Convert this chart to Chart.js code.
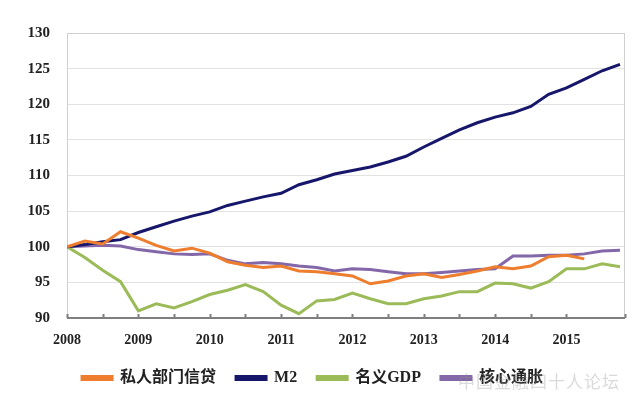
<!DOCTYPE html>
<html>
<head>
<meta charset="utf-8">
<script src="https://cdn.jsdelivr.net/npm/chart.js@4"></script>
<style>
body { margin: 0; background: #fff; }
#wrap { position: relative; width: 637px; height: 396px; }
#mark { position: absolute; left: 458px; top: 368px; font: 17px "Noto Sans CJK SC"; color: rgba(150,150,150,0.35); letter-spacing: 1px; }
</style>
</head>
<body>
<div id="wrap">
<canvas id="myChart" width="637" height="396"></canvas>
<span id="mark">中国金融四十人论坛</span>
</div>
<script>
// quarters 2008Q1 .. 2015Q4
const quarters = ['2008Q1','2008Q2','2008Q3','2008Q4','2009Q1','2009Q2','2009Q3','2009Q4',
  '2010Q1','2010Q2','2010Q3','2010Q4','2011Q1','2011Q2','2011Q3','2011Q4',
  '2012Q1','2012Q2','2012Q3','2012Q4','2013Q1','2013Q2','2013Q3','2013Q4',
  '2014Q1','2014Q2','2014Q3','2014Q4','2015Q1','2015Q2','2015Q3','2015Q4'];

const credit = [100,100.8,100.4,102.1,101.2,100.2,99.4,99.8,99.1,97.9,97.4,97.1,97.3,96.6,96.5,96.2,
  95.9,94.8,95.2,95.9,96.2,95.7,96.1,96.6,97.2,96.9,97.3,98.6,98.8,98.3,null,null];
const m2 = [100,100.3,100.7,101.0,102.0,102.8,103.6,104.3,104.9,105.8,106.4,107.0,107.5,108.7,109.4,110.2,
  110.7,111.2,111.9,112.7,114.0,115.2,116.4,117.4,118.2,118.8,119.7,121.4,122.3,123.5,124.7,125.6];
const gdp = [100,98.5,96.7,95.1,91.0,92.0,91.4,92.3,93.3,93.9,94.7,93.7,91.8,90.6,92.4,92.6,
  93.5,92.7,92.0,92.0,92.7,93.1,93.7,93.7,94.9,94.8,94.2,95.1,96.9,96.9,97.6,97.2];
const core = [100,100.1,100.2,100.1,99.6,99.3,99.0,98.9,99.0,98.1,97.6,97.8,97.6,97.3,97.1,96.6,
  96.9,96.8,96.5,96.2,96.2,96.4,96.6,96.8,96.9,98.7,98.7,98.8,98.8,99.0,99.4,99.5];

const seriesNames = ['私人部门信贷', 'M2', '名义GDP', '核心通胀'];
const colors = ['#ee7d2e', '#16166b', '#9bbb59', '#8367a8'];

// quarter label -> fractional year
function qx(q) { return Number(q.slice(0,4)) + (Number(q.slice(5)) - 1) / 4; }
function pts(vals) { return vals.map((v, i) => ({ x: qx(quarters[i]), y: v })); }

const FONT = "'Liberation Serif', 'Noto Sans CJK SC', serif";

// frame + inner tick marks
const frame = {
  id: 'frame',
  beforeDatasetsDraw(chart) {
    const a = chart.chartArea, c = chart.ctx;
    c.save();
    c.strokeStyle = '#cfcfcf';
    c.lineWidth = 1;
    c.beginPath();
    c.moveTo(a.left + 0.5, a.bottom);
    c.lineTo(a.left + 0.5, a.top + 0.5);
    c.lineTo(a.right - 0.5, a.top + 0.5);
    c.lineTo(a.right - 0.5, a.bottom);
    c.stroke();
    c.restore();
  },
  afterDatasetsDraw(chart) {
    const a = chart.chartArea, c = chart.ctx, sx = chart.scales.x;
    c.save();
    c.strokeStyle = '#7f7f7f';
    c.lineWidth = 2;
    c.beginPath();
    c.moveTo(a.left, a.bottom);
    c.lineTo(a.right, a.bottom);
    sx.ticks.forEach(t => {
      const px = Math.round(sx.getPixelForValue(t.value)) + 0.5;
      c.moveTo(px, a.bottom);
      c.lineTo(px, a.bottom - 4);
    });
    c.stroke();
    c.restore();
  }
};

const ctx = document.getElementById('myChart').getContext('2d');
const chart = new Chart(ctx, {
  type: 'line',
  data: {
    datasets: [credit, m2, gdp, core].map((vals, i) => ({
      label: seriesNames[i],
      data: pts(vals),
      borderColor: colors[i],
      backgroundColor: colors[i],
      borderWidth: 3,
      pointRadius: 0,
      tension: 0,
      spanGaps: false
    }))
  },
  options: {
    responsive: false,
    animation: false,
    layout: { padding: { left: 0, right: 12, top: 33, bottom: 0 } },
    scales: {
      x: {
        type: 'linear',
        min: 2008,
        max: 2015.82,
        afterFit: s => { s.height = 32; },
        grid: { display: false },
        border: { display: false },
        ticks: {
          stepSize: 0.5,
          autoSkip: false,
          maxRotation: 0,
          padding: 6,
          color: '#222',
          font: { family: FONT, size: 14, weight: 'bold' },
          callback: v => Number.isInteger(v) ? String(v) : ''
        }
      },
      y: {
        min: 90,
        max: 130,
        afterFit: s => { s.width = 67; },
        grid: { color: '#e2e2e2', drawTicks: false },
        border: { display: false },
        ticks: {
          stepSize: 5,
          padding: 17,
          color: '#222',
          font: { family: FONT, size: 15, weight: 'bold' }
        }
      }
    },
    plugins: {
      legend: {
        position: 'bottom',
        labels: {
          boxWidth: 30,
          boxHeight: 3,
          padding: 20,
          color: '#222',
          font: { family: FONT, size: 16, weight: 'bold' }
        }
      },
      tooltip: { enabled: false }
    }
  },
  plugins: [frame]
});
</script>
</body>
</html>
